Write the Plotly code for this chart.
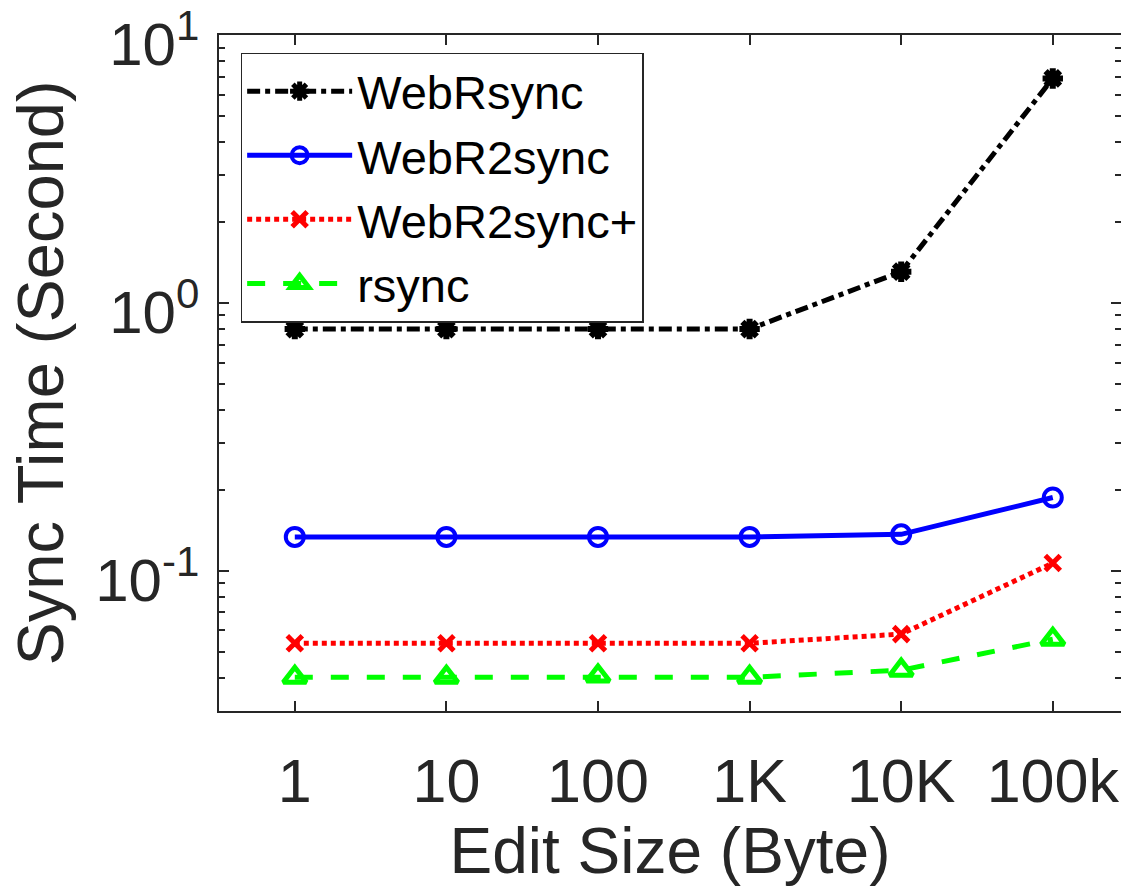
import plotly.graph_objects as go

# Edit size categories (x positions 1..6) and measured sync times in seconds
edit_sizes = ["1", "10", "100", "1K", "10K", "100k"]
x_pos = [1, 2, 3, 4, 5, 6]

webrsync = [0.80, 0.80, 0.80, 0.80, 1.31, 6.9]
webr2sync = [0.134, 0.134, 0.134, 0.134, 0.137, 0.188]
webr2sync_plus = [0.0537, 0.0537, 0.0537, 0.0537, 0.0581, 0.107]
rsync_times = [0.0401, 0.0401, 0.0405, 0.0401, 0.0426, 0.0556]

FONT = "Liberation Sans, Arial, Helvetica, sans-serif"
AXIS_COLOR = "#262626"

fig = go.Figure()

fig.add_trace(go.Scatter(
    x=x_pos, y=webrsync, name="WebRsync", mode="lines+markers",
    line=dict(color="black", width=5, dash="13px,5px,5px,5px"),
    marker=dict(symbol="asterisk-open", size=17, color="black",
                line=dict(color="black", width=6)),
))
fig.add_trace(go.Scatter(
    x=x_pos, y=webr2sync, name="WebR2sync", mode="lines+markers",
    line=dict(color="#0000ff", width=5),
    marker=dict(symbol="circle-open", size=18, color="#0000ff",
                line=dict(color="#0000ff", width=4)),
))
fig.add_trace(go.Scatter(
    x=x_pos, y=webr2sync_plus, name="WebR2sync+", mode="lines+markers",
    line=dict(color="#ff0000", width=5, dash="5px,4px"),
    marker=dict(symbol="x-thin-open", size=15, color="#ff0000",
                line=dict(color="#ff0000", width=5)),
))
fig.add_trace(go.Scatter(
    x=x_pos, y=rsync_times, name="rsync", mode="lines+markers",
    line=dict(color="#00ff00", width=5, dash="18px,18px"),
    marker=dict(symbol="triangle-up-open", size=20, color="#00ff00",
                line=dict(color="#00ff00", width=5)),
))

minor_vals = []
for decade in [0.01, 0.1, 1]:
    for k in range(2, 10):
        v = k * decade
        if 0.03 <= v <= 10:
            minor_vals.append(v)

fig.update_layout(
    width=1121, height=887,
    margin=dict(l=219, r=0, t=35, b=176, autoexpand=False),
    paper_bgcolor="white", plot_bgcolor="white",
    font=dict(family=FONT, size=60, color=AXIS_COLOR),
    showlegend=True,
    legend=dict(
        x=0.024, y=0.974, xanchor="left", yanchor="top",
        bgcolor="white", bordercolor=AXIS_COLOR, borderwidth=1.5,
        font=dict(family=FONT, size=47, color="black"),
        tracegroupgap=0, itemwidth=105,
    ),
    xaxis=dict(
        range=[0.5, 6.45], automargin=False,
        tickmode="array", tickvals=x_pos, ticktext=edit_sizes,
        ticks="inside", ticklen=10, tickwidth=1.5, tickcolor=AXIS_COLOR,
        showline=True, linecolor=AXIS_COLOR, linewidth=1.5, mirror="ticks",
        showgrid=False, zeroline=False,
        tickfont=dict(size=61, color=AXIS_COLOR),
        ticklabelstandoff=16,
        title=dict(text="Edit Size (Byte)", font=dict(size=64, color=AXIS_COLOR),
                   standoff=16),
    ),
    yaxis=dict(
        type="log", range=[-1.5229, 1.001], automargin=False,
        tickmode="array", tickvals=[0.1, 1, 10],
        ticktext=["10<sup>-1</sup>", "10<sup>0</sup>", "10<sup>1</sup>"],
        ticks="inside", ticklen=10, tickwidth=1.5, tickcolor=AXIS_COLOR,
        minor=dict(tickmode="array", tickvals=minor_vals, ticks="inside",
                   ticklen=6, tickwidth=1.5, tickcolor=AXIS_COLOR, showgrid=False),
        showline=True, linecolor=AXIS_COLOR, linewidth=1.5, mirror="ticks",
        showgrid=False, zeroline=False,
        tickfont=dict(size=60, color=AXIS_COLOR),
        ticklabelstandoff=6, ticklabelshift=9, ticklabeloverflow="allow",
        title=dict(text="Sync Time (Second)", font=dict(size=65, color=AXIS_COLOR),
                   standoff=10),
    ),
)

fig.write_html("out.html")
